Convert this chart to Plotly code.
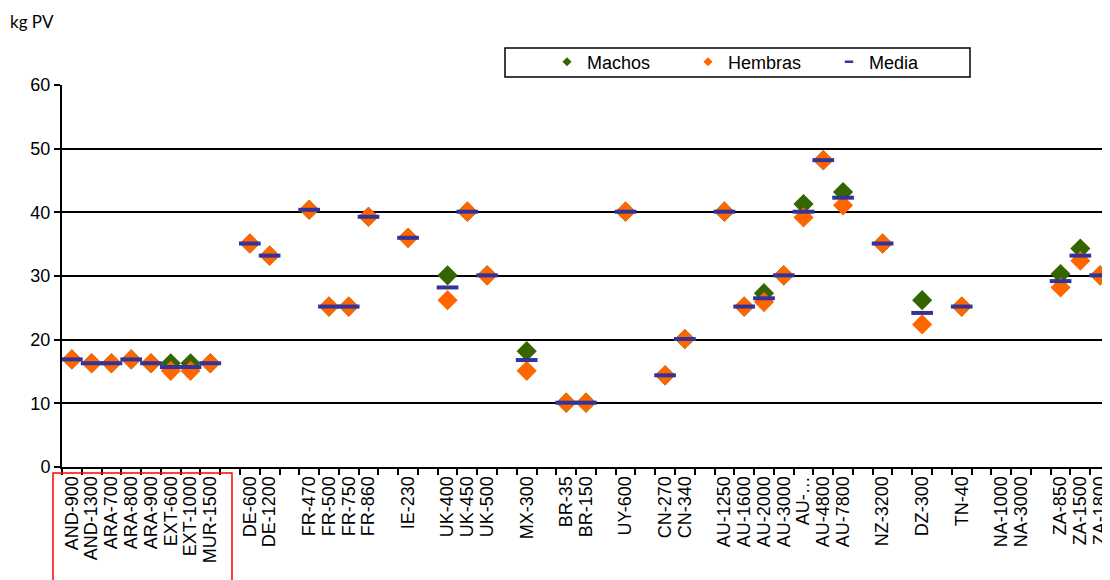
import plotly.graph_objects as go

# Categories in axis order; "" marks an empty separator slot between countries
categories = [
    "AND-900", "AND-1300", "ARA-700", "ARA-800", "ARA-900", "EXT-600", "EXT-1000", "MUR-1500", "",
    "DE-600", "DE-1200", "",
    "FR-470", "FR-500", "FR-750", "FR-860", "",
    "IE-230", "",
    "UK-400", "UK-450", "UK-500", "",
    "MX-300", "",
    "BR-35", "BR-150", "",
    "UY-600", "",
    "CN-270", "CN-340", "",
    "AU-1250", "AU-1600", "AU-2000", "AU-3000", "AU-…", "AU-4800", "AU-7800", "",
    "NZ-3200", "",
    "DZ-300", "",
    "TN-40", "",
    "NA-1000", "NA-3000", "",
    "ZA-850", "ZA-1500", "ZA-1800",
]

machos = [16.9, 16.3, 16.3, 16.9, 16.3, 16.3, 16.3, 16.3, None,
          35.1, 33.2, None,
          40.4, 25.2, 25.2, 39.3, None,
          36.0, None,
          30.1, 40.1, 30.1, None,
          18.2, None,
          10.1, 10.1, None,
          40.1, None,
          14.4, 20.1, None,
          40.1, 25.2, 27.3, 30.1, 41.3, 48.2, 43.2, None,
          35.1, None,
          26.2, None,
          25.2, None,
          None, None, None,
          30.3, 34.3, 30.1]

hembras = [16.9, 16.3, 16.3, 16.9, 16.3, 15.1, 15.1, 16.3, None,
           35.1, 33.2, None,
           40.4, 25.2, 25.2, 39.3, None,
           36.0, None,
           26.2, 40.1, 30.1, None,
           15.1, None,
           10.1, 10.1, None,
           40.1, None,
           14.4, 20.1, None,
           40.1, 25.2, 25.9, 30.1, 39.2, 48.2, 41.1, None,
           35.1, None,
           22.4, None,
           25.2, None,
           None, None, None,
           28.2, 32.4, 30.1]

media = [16.9, 16.3, 16.3, 16.9, 16.3, 15.7, 15.7, 16.3, None,
         35.1, 33.2, None,
         40.4, 25.2, 25.2, 39.3, None,
         36.0, None,
         28.2, 40.1, 30.1, None,
         16.8, None,
         10.1, 10.1, None,
         40.1, None,
         14.4, 20.1, None,
         40.1, 25.2, 26.5, 30.1, 40.1, 48.2, 42.3, None,
         35.1, None,
         24.2, None,
         25.2, None,
         None, None, None,
         29.2, 33.2, 30.1]

y_ticks = [0, 10, 20, 30, 40, 50, 60]

# Give each empty separator slot a unique blank name so it keeps its own slot
xcats = []
blank_n = 0
for c in categories:
    if c == "":
        blank_n += 1
        xcats.append(" " * blank_n)
    else:
        xcats.append(c)

GREEN = "#336600"
ORANGE = "#FF6600"
BLUE = "#333399"
FONT = "Liberation Sans"

fig = go.Figure()
fig.add_trace(go.Scatter(x=xcats, y=machos, mode="markers", name="Machos", showlegend=False,
                         marker=dict(symbol="diamond", size=15.5, color=GREEN, line=dict(width=0)),
                         cliponaxis=False))
fig.add_trace(go.Scatter(x=xcats, y=hembras, mode="markers", name="Hembras", showlegend=False,
                         marker=dict(symbol="diamond", size=15.5, color=ORANGE, line=dict(width=0)),
                         cliponaxis=False))
fig.add_trace(go.Scatter(x=xcats, y=media, mode="markers", name="Media", showlegend=False,
                         marker=dict(symbol="line-ew", size=15.5, color=BLUE, line=dict(width=4, color=BLUE)),
                         cliponaxis=False))

# legend-only entries with small symbols
fig.add_trace(go.Scatter(x=[None], y=[None], mode="markers", name="Machos",
                         marker=dict(symbol="diamond", size=7, color=GREEN)))
fig.add_trace(go.Scatter(x=[None], y=[None], mode="markers", name="Hembras",
                         marker=dict(symbol="diamond", size=7, color=ORANGE)))
fig.add_trace(go.Scatter(x=[None], y=[None], mode="markers", name="Media",
                         marker=dict(symbol="line-ew", size=6, color=BLUE, line=dict(width=2.5, color=BLUE))))

fig.update_layout(
    width=1110, height=580,
    margin=dict(l=54, r=8, t=77, b=121, pad=0),
    paper_bgcolor="white", plot_bgcolor="white",
    font=dict(family=FONT, size=18, color="black"),
    showlegend=True,
    legend=dict(orientation="h", x=0.4628, xanchor="left", y=1.06, yanchor="middle",
                entrywidth=96, entrywidthmode="pixels",
                font=dict(family=FONT, size=18, color="black"),
                bgcolor="rgba(0,0,0,0)", borderwidth=0, traceorder="normal"),
    xaxis=dict(type="category", categoryorder="array", categoryarray=xcats,
               range=[-0.5, len(xcats) - 0.5], tickson="boundaries",
               tickmode="linear", tick0=0, dtick=1,
               ticks="outside", ticklen=6, tickwidth=1.5, tickcolor="black",
               showline=True, linecolor="black", linewidth=2,
               showgrid=False, zeroline=False, tickangle=-90,
               tickfont=dict(family=FONT, size=18, color="black")),
    yaxis=dict(range=[0, 60], tickvals=y_ticks,
               ticks="outside", ticklen=6, tickwidth=1.5, tickcolor="black",
               showline=True, linecolor="black", linewidth=2,
               showgrid=True, gridcolor="black", gridwidth=1.5, zeroline=False,
               tickfont=dict(family=FONT, size=18, color="black")),
    shapes=[
        dict(type="rect", xref="paper", yref="paper", x0=0.4227, x1=0.8664, y0=1.0209, y1=1.0969,
             line=dict(color="black", width=1.5), fillcolor="rgba(0,0,0,0)", layer="above"),
        dict(type="rect", xref="paper", yref="paper", x0=-0.0086, x1=0.1622, y0=-0.0157, y1=-0.40,
             line=dict(color="red", width=1.5), fillcolor="rgba(0,0,0,0)", layer="above"),
    ],
    annotations=[
        dict(text="kg PV", xref="paper", yref="paper", x=-0.0515, y=1.165, xanchor="left", yanchor="middle",
             showarrow=False, font=dict(family="Lato", size=17, color="black")),
    ],
)

fig.write_html("out.html")
